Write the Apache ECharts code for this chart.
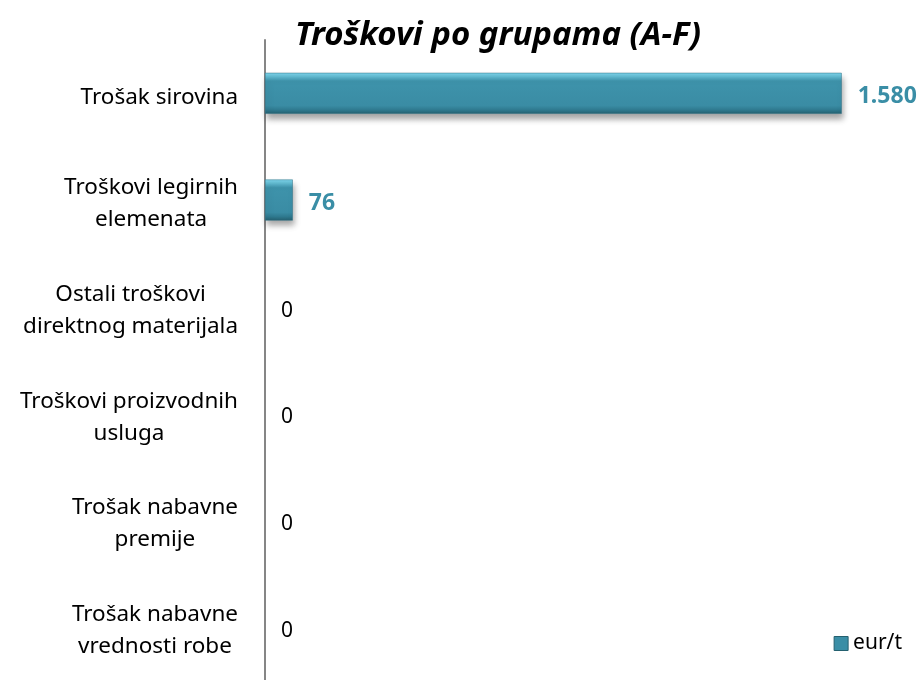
<!DOCTYPE html>
<html>
<head>
<meta charset="utf-8">
<script src="https://cdn.jsdelivr.net/npm/echarts@6/dist/echarts.min.js"></script>
<style>
  html, body { margin: 0; padding: 0; background: #fff; }
  #chart { width: 923px; height: 680px; }
</style>
</head>
<body>
<div id="chart"></div>
<script>
// Cost groups (top to bottom) and their values in eur/t
const categories = [
  'Trošak sirovina',
  'Troškovi legirnih\nelemenata',
  'Ostali troškovi\ndirektnog materijala',
  'Troškovi proizvodnih\nusluga',
  'Trošak nabavne\npremije',
  'Trošak nabavne\nvrednosti robe'
];
const values = [1580, 76, 0, 0, 0, 0];
const seriesName = 'eur/t';
const titleText = 'Troškovi po grupama (A-F)';

const FONT = '"Noto Sans", "Open Sans", sans-serif';
const TEAL = '#3a8ea6';

// Thousands separator as a dot
function fmt(v) {
  return String(v).replace(/\B(?=(\d{3})+(?!\d))/g, '.');
}

const barFill = new echarts.graphic.LinearGradient(0, 0, 0, 1, [
  { offset: 0, color: '#7fd6ec' },
  { offset: 0.1, color: '#5fb8cf' },
  { offset: 0.2, color: '#3e93ab' },
  { offset: 0.8, color: '#3a8ca4' },
  { offset: 0.9, color: '#2f7a90' },
  { offset: 1, color: '#24606f' }
]);

const chart = echarts.init(document.getElementById('chart'));
chart.setOption({
  animation: false,
  backgroundColor: '#fff',
  title: {
    text: titleText,
    left: 493,
    textAlign: 'center',
    top: 14,
    textStyle: {
      fontFamily: FONT,
      fontSize: 33,
      fontWeight: 'bold',
      fontStyle: 'italic',
      color: '#000'
    }
  },
  legend: {
    data: [{ name: seriesName, itemStyle: { color: '#3a8ea6', borderColor: '#24606f', borderWidth: 1 } }],
    right: 16,
    top: 628,
    icon: 'rect',
    itemWidth: 14,
    itemHeight: 14,
    itemGap: 8,
    textStyle: { fontFamily: FONT, fontSize: 21, color: '#000' }
  },
  grid: { left: 265, top: 40, width: 584, height: 643, containLabel: false },
  xAxis: {
    type: 'value',
    min: 0,
    max: 1600,
    show: false
  },
  yAxis: {
    type: 'category',
    data: categories,
    inverse: true,
    axisLine: { show: true, lineStyle: { color: '#868686', width: 2 } },
    axisTick: { show: false },
    axisLabel: {
      margin: 27,
      align: 'right',
      lineHeight: 32,
      padding: [8, 0, 0, 0],
      fontFamily: FONT,
      fontSize: 22.5,
      color: '#000',
      formatter: function (v) {
        return v.split('\n').map(function (s) { return '{c|' + s + '}'; }).join('\n');
      },
      rich: {
        c: { align: 'center', fontFamily: FONT, fontSize: 22.5, lineHeight: 32, color: '#000' }
      }
    }
  },
  series: [{
    name: seriesName,
    type: 'bar',
    data: values.map(function (v) {
      const zero = v === 0;
      return {
        value: v,
        itemStyle: zero
          ? { color: 'rgba(0,0,0,0)', borderWidth: 0, shadowBlur: 0, shadowOffsetX: 0, shadowOffsetY: 0, shadowColor: 'rgba(0,0,0,0)' }
          : undefined,
        label: zero
          ? { color: '#000', fontWeight: 'normal', fontSize: 21, offset: [0, 4] }
          : { color: TEAL, fontWeight: 'bold', fontSize: 23, offset: [0, 3] }
      };
    }),
    barWidth: 41,
    itemStyle: {
      color: barFill,
      borderColor: '#2a6f82',
      borderWidth: 0.5,
      shadowColor: 'rgba(0,0,0,0.35)',
      shadowBlur: 6,
      shadowOffsetX: 2,
      shadowOffsetY: 5
    },
    label: {
      show: true,
      position: 'right',
      distance: 16,
      fontFamily: FONT,
      formatter: function (p) { return fmt(p.value); }
    }
  }]
});
</script>
</body>
</html>
